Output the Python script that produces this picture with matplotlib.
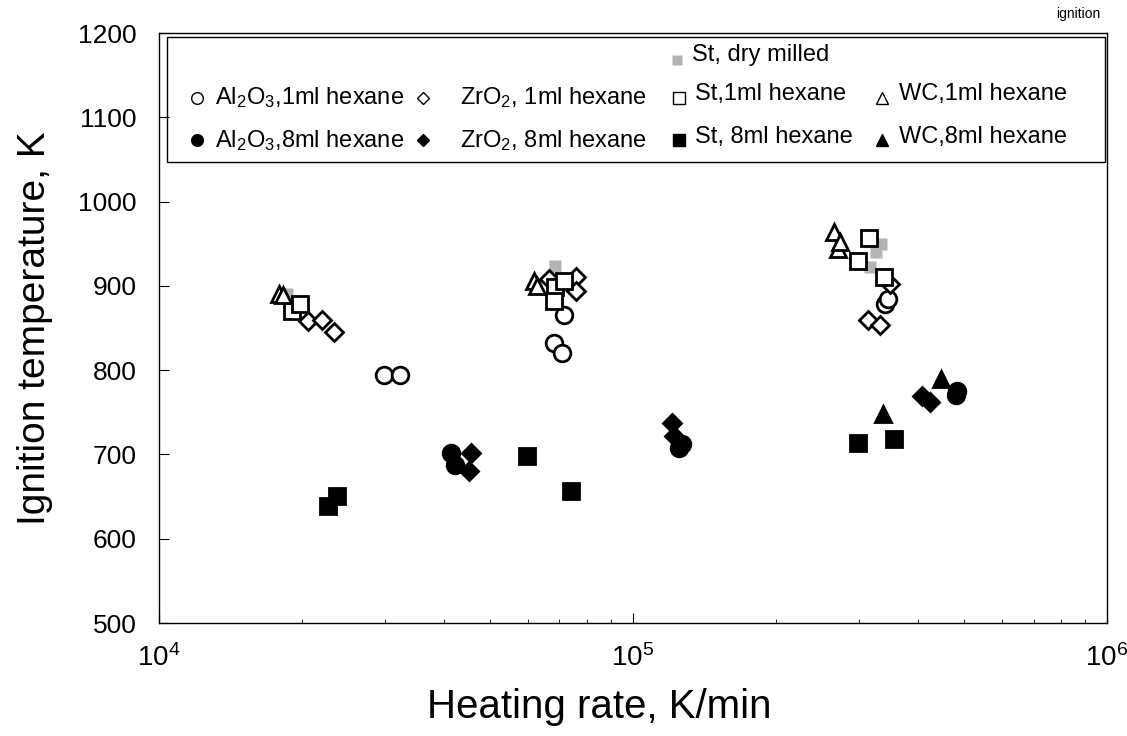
import matplotlib
matplotlib.use("Agg")
import matplotlib.pyplot as plt
from matplotlib.patches import Rectangle

plt.rcParams['font.family'] = ['Liberation Sans', 'DejaVu Sans']
plt.rcParams['mathtext.fontset'] = 'custom'
plt.rcParams['mathtext.rm'] = 'Liberation Sans'
plt.rcParams['mathtext.it'] = 'Liberation Sans:italic'
plt.rcParams['mathtext.default'] = 'regular'

# heating rate (K/min) and ignition temperature (K) for each powder
st_dry_rate = [18600, 68400, 333000, 316000, 326000]
st_dry_T = [890, 924, 950, 923, 940]

al_1ml_rate = [29900, 32200, 68100, 70700, 71400, 340000, 345000]
al_1ml_T = [794, 794, 832, 820, 865, 879, 885]
al_8ml_rate = [41400, 42200, 125000, 127000, 480000, 483000]
al_8ml_T = [702, 688, 708, 712, 770, 775]

zr_1ml_rate = [20600, 22100, 23400, 66400, 76000, 76000, 313000, 332000, 348000]
zr_1ml_T = [858, 860, 845, 908, 911, 894, 860, 854, 902]
zr_8ml_rate = [45600, 45000, 121000, 122000, 408000, 423000]
zr_8ml_T = [702, 680, 737, 722, 769, 762]

st_1ml_rate = [19100, 19800, 68400, 68100, 71500, 315000, 299000, 338000]
st_1ml_T = [870, 879, 899, 882, 906, 957, 930, 911]
st_8ml_rate = [22700, 23700, 59700, 74100, 299000, 355000]
st_8ml_T = [639, 651, 698, 657, 714, 718]

wc_1ml_rate = [17900, 18300, 61800, 62700, 266000, 271000, 274000]
wc_1ml_T = [890, 889, 906, 900, 964, 944, 952]
wc_8ml_rate = [337000, 446000]
wc_8ml_T = [748, 789]

# (rates, temperatures, marker, filled, label) -- order of the key columns
series = [
    (al_1ml_rate, al_1ml_T, 'o', False, r'Al$_2$O$_3$,1ml hexane'),
    (zr_1ml_rate, zr_1ml_T, 'D', False, r'ZrO$_2$, 1ml hexane'),
    (st_1ml_rate, st_1ml_T, 's', False, 'St,1ml hexane'),
    (wc_1ml_rate, wc_1ml_T, '^', False, 'WC,1ml hexane'),
    (al_8ml_rate, al_8ml_T, 'o', True, r'Al$_2$O$_3$,8ml hexane'),
    (zr_8ml_rate, zr_8ml_T, 'D', True, r'ZrO$_2$, 8ml hexane'),
    (st_8ml_rate, st_8ml_T, 's', True, 'St, 8ml hexane'),
    (wc_8ml_rate, wc_8ml_T, '^', True, 'WC,8ml hexane'),
]
key_x = [0.040, 0.279, 0.549, 0.763]
text_x = [0.059, 0.318, 0.566, 0.781]
key_y = [0.890, 0.818]

fig = plt.figure(figsize=(11.27, 7.36), dpi=100)
ax = fig.add_axes([0.141, 0.1535, 0.8412, 0.8015])

sizes = {'o': 12, 'D': 9, 's': 12, '^': 12}

ax.plot(st_dry_rate, st_dry_T, 's', ms=9, color='#b4b4b4', mec='none', zorder=1)
for x, y, m, filled, lab in series:
    fc = 'black' if filled else 'white'
    ax.plot(x, y, m, ms=sizes[m], mfc=fc, mec='black', mew=2.0, ls='none', zorder=2)

ax.set_xscale('log')
ax.set_xlim(1e4, 1e6)
ax.set_ylim(500, 1200)
ax.set_yticks(range(500, 1201, 100))
ax.tick_params(axis='both', which='major', direction='in', length=7, labelsize=19)
ax.tick_params(axis='x', which='major', pad=15, labelsize=20)
ax.tick_params(axis='y', which='major', pad=16)
ax.tick_params(axis='both', which='minor', direction='in', length=3)
ax.set_xlabel('Heating rate, K/min', fontsize=29, labelpad=12)
ax.xaxis.label.set_x(0.464)
ax.set_ylabel('Ignition temperature, K', fontsize=28, labelpad=18)
for s in ax.spines.values():
    s.set_linewidth(1.0)

# key box drawn inside the axes
ax.add_patch(Rectangle((0.0084, 0.782), 0.99, 0.211, transform=ax.transAxes,
                       fill=False, lw=1.0, ec='black', zorder=3))
ax.plot(0.546, 0.955, 's', ms=7, color='#b4b4b4', mec='none', transform=ax.transAxes, zorder=4)
ax.text(0.562, 0.963, 'St, dry milled', transform=ax.transAxes, fontsize=17, va='center')
for i, (x, y, m, filled, lab) in enumerate(series):
    col, row = i % 4, i // 4
    fc = 'black' if filled else 'white'
    ax.plot(key_x[col], key_y[row], m, ms=sizes[m] * 0.7, mfc=fc, mec='black', mew=1.0,
            transform=ax.transAxes, zorder=4)
    dy = 0.006 if col >= 2 else 0.0
    ax.text(text_x[col], key_y[row] + dy, lab, transform=ax.transAxes,
            fontsize=17, va='center')

fig.text(0.937, 0.981, 'ignition', fontsize=10, va='center')

fig.savefig('out.png', dpi=100)
